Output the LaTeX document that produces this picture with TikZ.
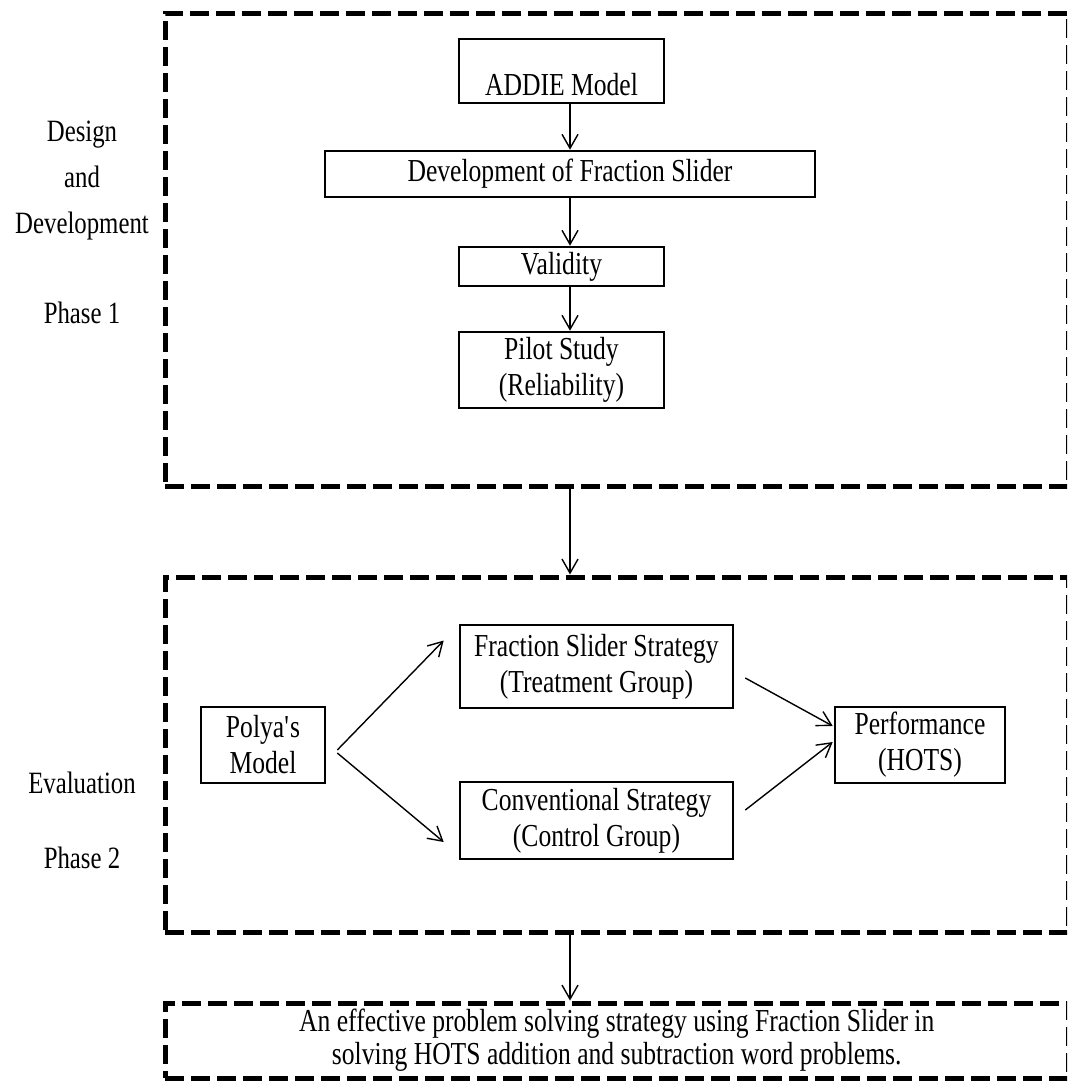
\documentclass[tikz,border=0pt]{standalone}
\usepackage{fontspec}
\setmainfont{Liberation Serif}[FakeStretch=0.8]
\usetikzlibrary{arrows.meta}

\tikzset{
    frame/.style={draw, line width=2.5pt, dash pattern=on 9.5pt off 3.5pt, inner sep=0pt, align=center,
        font=\fontsize{16}{16.5}\selectfont},
    block/.style={draw, line width=1.3pt, inner sep=0pt, align=center, font=\fontsize{16}{18}\selectfont},
    flow/.style={line width=0.7pt, -{Straight Barb[length=7pt,width=8pt]}},
    sidelabel/.style={align=center, font=\fontsize{15.5}{23}\selectfont}
}

\begin{document}
\begin{tikzpicture}[x=0.5pt, y=-0.5pt]
    \useasboundingbox (0, 0) rectangle (1067, 1082);
    \clip (0, 0) rectangle (1067, 1082);

    \node[frame, minimum width=451.75pt, minimum height=236.5pt] (phaseone) at (616.75, 249.5) {};
    \node[frame, minimum width=451.75pt, minimum height=177.5pt] (phasetwo) at (616.75, 754.5) {};
    \node[frame, minimum width=451.75pt, minimum height=37.5pt] (outcome) at (616.75, 1040.5)
        {An effective problem solving strategy using Fraction Slider in\\
         solving HOTS addition and subtraction word problems.};

    \node[sidelabel] (design) at (82, 181) {Design\\and\\Development};
    \node[sidelabel] (phaseno1) at (82, 313) {Phase 1};
    \node[sidelabel] (evaluation) at (82, 783) {Evaluation};
    \node[sidelabel] (phaseno2) at (82, 858) {Phase 2};

    \node[block, minimum width=102.5pt, minimum height=32pt, text height=24pt, text depth=0pt]
        (addie) at (561.5, 71) {ADDIE Model};
    \node[block, minimum width=245pt, minimum height=23pt] (dev) at (570, 174) {Development of Fraction Slider};
    \node[block, minimum width=102.5pt, minimum height=19.5pt] (valid) at (561.5, 266.5) {Validity};
    \node[block, minimum width=102.5pt, minimum height=38pt] (pilot) at (561.5, 370) {Pilot Study\\(Reliability)};

    \node[block, minimum width=62pt, minimum height=38pt] (polya) at (263, 745) {Polya\textquotesingle s\\Model};
    \node[block, minimum width=136.5pt, minimum height=41.5pt] (frac) at (596.5, 666.5)
        {Fraction Slider Strategy\\(Treatment Group)};
    \node[block, minimum width=136.5pt, minimum height=38.5pt] (conv) at (596.5, 820.5)
        {Conventional Strategy\\(Control Group)};
    \node[block, minimum width=85pt, minimum height=38pt] (perf) at (920, 745) {Performance\\(HOTS)};

    \draw[flow] (addie.south -| dev.north) -- (dev.north);
    \draw[flow] (dev.south) -- (valid.north -| dev.south);
    \draw[flow] (valid.south -| dev.south) -- (pilot.north -| dev.south);
    \draw[flow] (phaseone.south -| dev.south) -- (phasetwo.north -| dev.south);
    \draw[flow] (phasetwo.south -| dev.south) -- (outcome.north -| dev.south);

    \draw[flow] ([xshift=5.5pt, yshift=-2.5pt]polya.east) -- ([xshift=-7.5pt, yshift=13pt]frac.west);
    \draw[flow] ([xshift=5.5pt, yshift=-4pt]polya.east) -- ([xshift=-7.5pt, yshift=-10.75pt]conv.west);
    \draw[flow] ([xshift=5.5pt, yshift=-5.75pt]frac.east) -- ([xshift=-0.5pt, yshift=9.5pt]perf.west);
    \draw[flow] ([xshift=5.5pt, yshift=5.25pt]conv.east) -- ([xshift=-0.5pt, yshift=1.5pt]perf.west);
\end{tikzpicture}
\end{document}
